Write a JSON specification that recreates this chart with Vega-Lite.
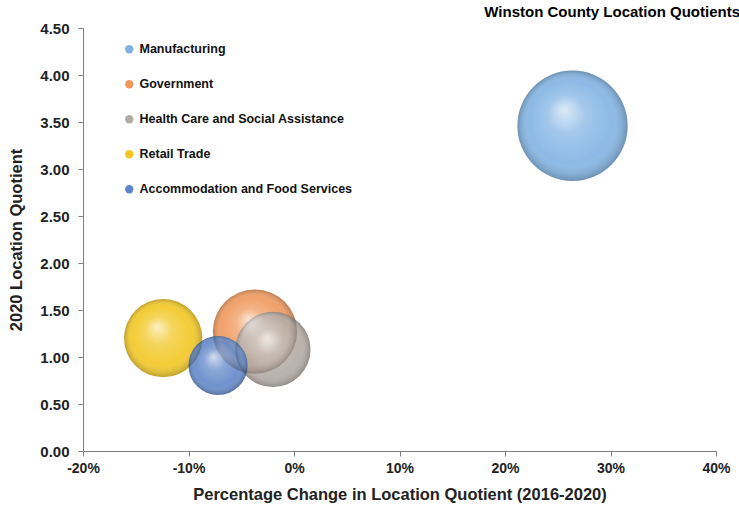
{
  "$schema": "https://vega.github.io/schema/vega-lite/v6.json",
  "width": 633,
  "height": 423,
  "autosize": {"type": "none"},
  "padding": {"left": 83, "top": 28, "right": 23, "bottom": 61},
  "background": "white",
  "title": {"text": "Winston County Location Quotients", "anchor": "end", "dx": 10, "offset": 1, "font": "Liberation Sans", "fontSize": 15, "fontWeight": "bold", "color": "#000000"},
  "config": {"view": {"stroke": null}},
  "data": {"values": [
    {"industry": "Manufacturing", "pct_change": 0.264, "lq": 3.46, "employment": 950},
    {"industry": "Government", "pct_change": -0.037, "lq": 1.27, "employment": 554},
    {"industry": "Health Care and Social Assistance", "pct_change": -0.020, "lq": 1.08, "employment": 442},
    {"industry": "Retail Trade", "pct_change": -0.124, "lq": 1.20, "employment": 478},
    {"industry": "Accommodation and Food Services", "pct_change": -0.072, "lq": 0.91, "employment": 273}
  ]},
  "encoding": {
    "x": {"field": "pct_change", "type": "quantitative",
      "scale": {"domain": [-0.2, 0.4], "nice": false, "zero": false},
      "axis": {"values": [-0.2, -0.1, 0, 0.1, 0.2, 0.3, 0.4], "labelExpr": "round(datum.value*100) + '%'", "labelFlush": false,
        "title": "Percentage Change in Location Quotient (2016-2020)", "grid": false,
        "domainColor": "#808080", "tickColor": "#808080", "tickSize": 5,
        "labelFont": "Liberation Sans", "labelFontSize": 14, "labelFontWeight": "bold", "labelColor": "#222222", "labelPadding": 5,
        "titleFont": "Liberation Sans", "titleFontSize": 16.5, "titleFontWeight": "bold", "titleColor": "#222222", "titlePadding": 11}},
    "y": {"field": "lq", "type": "quantitative",
      "scale": {"domain": [0, 4.5], "nice": false},
      "axis": {"values": [0, 0.5, 1, 1.5, 2, 2.5, 3, 3.5, 4, 4.5], "format": ".2f",
        "title": "2020 Location Quotient", "grid": false,
        "domainColor": "#808080", "tickColor": "#808080", "tickSize": 5,
        "labelFont": "Liberation Sans", "labelFontSize": 15, "labelFontWeight": "bold", "labelColor": "#222222", "labelPadding": 9,
        "titleFont": "Liberation Sans", "titleFontSize": 16.5, "titleFontWeight": "bold", "titleColor": "#222222", "titlePadding": 15}},
    "size": {"field": "employment", "type": "quantitative", "scale": {"type": "linear", "domain": [0, 1000], "range": [0, 12800], "zero": true}, "legend": null}
  },
  "layer": [
    {
      "mark": {"type": "circle", "opacity": 0.9},
      "encoding": {
        "color": {"field": "industry", "type": "nominal",
          "scale": {"domain": ["Manufacturing", "Government", "Health Care and Social Assistance", "Retail Trade", "Accommodation and Food Services"],
                    "range": ["#7fb2e3", "#f0975a", "#b3aaa3", "#f2c620", "#5f86c9"]},
          "legend": {"title": null, "orient": "none", "legendX": 40, "legendY": 15, "symbolType": "circle", "symbolSize": 70,
            "labelFont": "Liberation Sans", "labelFontSize": 12.5, "labelFontWeight": "bold", "labelColor": "#111111", "labelLimit": 0,
            "rowPadding": 22, "symbolOpacity": 1, "labelOffset": 4}}
      }
    },
    {
      "mark": {"type": "circle", "opacity": 1,
        "fill": {"gradient": "radial", "x1": 0.42, "y1": 0.35, "r1": 0, "x2": 0.5, "y2": 0.5, "r2": 0.5,
          "stops": [
            {"offset": 0, "color": "rgba(255,255,255,0.7)"},
            {"offset": 0.35, "color": "rgba(255,255,255,0.2)"},
            {"offset": 0.75, "color": "rgba(255,255,255,0)"},
            {"offset": 1, "color": "rgba(0,0,0,0.22)"}
          ]}}
    }
  ]
}
